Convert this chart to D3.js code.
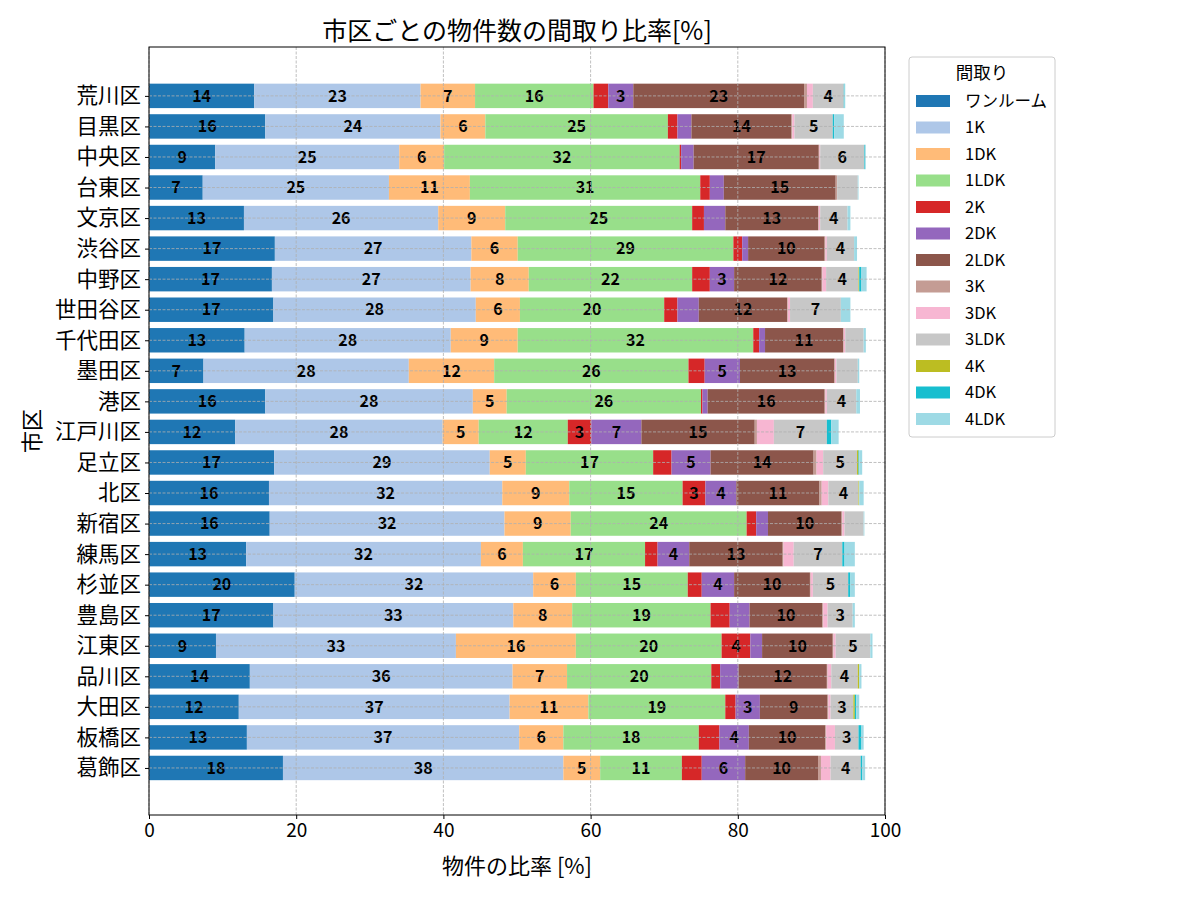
<!DOCTYPE html>
<html>
<head>
<meta charset="utf-8">
<script src="https://cdn.jsdelivr.net/npm/d3@7"></script>
<style>
	body { margin: 0; background: #fff; }
	svg text { font-family: "Noto Sans CJK JP", "Noto Sans", sans-serif; }
</style>
</head>
<body>
<svg id="chart" width="1200" height="900"></svg>
<script>
// wards top to bottom
var wards = ["荒川区","目黒区","中央区","台東区","文京区","渋谷区","中野区","世田谷区","千代田区","墨田区","港区","江戸川区","足立区","北区","新宿区","練馬区","杉並区","豊島区","江東区","品川区","大田区","板橋区","葛飾区"];
var layouts = ["ワンルーム","1K","1DK","1LDK","2K","2DK","2LDK","3K","3DK","3LDK","4K","4DK","4LDK"];
var colors = ["#1f77b4","#aec7e8","#ffbb78","#98df8a","#d62728","#9467bd","#8c564b","#c49c94","#f7b6d2","#c7c7c7","#bcbd22","#17becf","#9edae5"];

// percent per layout, same order as wards
var oneRoom = [14.3,15.8,9.0,7.3,12.9,17.1,16.7,16.9,13.0,7.4,15.8,11.7,17.0,16.3,16.4,13.2,19.8,16.9,9.1,13.7,12.2,13.3,18.2];
var k1      = [22.6,23.8,25.0,25.3,26.4,26.7,27.0,27.5,28.0,27.9,28.2,28.2,29.3,31.7,31.9,31.9,32.4,32.6,32.6,35.7,36.8,37.0,38.1];
var dk1     = [7.4,6.1,6.1,11.0,9.1,6.3,7.9,6.0,9.1,11.6,4.6,4.9,4.9,9.1,9.0,5.7,5.8,8.0,16.3,7.4,10.7,6.0,5.0];
var ldk1    = [16.1,24.8,32.0,31.3,25.4,29.3,22.2,19.6,32.0,26.4,26.4,12.1,17.3,15.4,23.9,16.6,15.2,18.8,19.8,19.6,18.6,18.4,11.1];
var k2      = [2.0,1.3,0.2,1.3,1.6,1.2,2.4,1.8,0.8,2.2,0.2,3.2,2.5,3.1,1.3,1.7,1.9,2.6,3.9,1.2,1.4,2.8,2.7];
var dk2     = [3.4,1.9,1.7,1.9,2.9,0.8,3.3,2.9,0.8,4.8,0.7,6.8,5.3,4.2,1.6,4.3,4.4,2.7,1.6,2.5,3.3,4.0,5.9];
var ldk2    = [23.2,13.6,17.0,15.2,12.6,10.4,11.9,12.0,10.6,12.8,15.9,15.4,14.0,11.3,10.0,12.7,10.3,9.9,9.6,12.0,9.2,10.4,9.9];
var k3      = [0.4,0.1,0.1,0.2,0.1,0.1,0.1,0.1,0.1,0.1,0.1,0.3,0.4,0.3,0.1,0.1,0.1,0.1,0.1,0.1,0.1,0.1,0.4];
var dk3     = [0.8,0.3,0.1,0.0,0.2,0.2,0.5,0.3,0.2,0.2,0.2,2.3,0.9,0.9,0.3,1.4,0.3,0.6,0.3,0.5,0.3,1.2,1.3];
var ldk3    = [4.2,5.2,6.0,2.8,3.7,3.7,4.4,6.9,2.5,2.9,4.0,7.2,4.6,4.1,2.6,6.6,4.8,3.4,4.7,3.6,3.1,3.2,4.1];
var k4      = [0,0,0,0,0,0,0.1,0,0,0,0,0,0.2,0.1,0,0,0,0,0,0.2,0.2,0,0];
var dk4     = [0.1,0.2,0.1,0,0,0,0.3,0,0,0,0,0.6,0.1,0,0,0.3,0.3,0,0,0,0.2,0.4,0.2];
var ldk4    = [0.1,1.3,0.1,0.1,0.4,0.4,0.7,1.3,0.3,0.2,0.5,1.0,0.4,0.6,0.1,1.4,0.6,0.3,0.3,0.3,0.4,0.3,0.4];
var xTicks  = [0,20,40,60,80,100];

var series = [oneRoom,k1,dk1,ldk1,k2,dk2,ldk2,k3,dk3,ldk3,k4,dk4,ldk4];

var margin = { top: 47, right: 315, bottom: 85, left: 149 };
var width = 1200 - margin.left - margin.right;
var height = 900 - margin.top - margin.bottom;

var svg = d3.select("#chart");
var g = svg.append("g").attr("transform", "translate(" + margin.left + "," + margin.top + ")");

var xScale = d3.scaleLinear().domain([0, 100]).range([0, width]);
var yScale = d3.scaleLinear().domain([-1.6, 23.54]).range([0, height]);
var bandH = (yScale(1) - yScale(0)) * 0.8;

// stacked segments
var segments = [];
for (var w = 0; w < wards.length; w++) {
	var left = 0;
	for (var s = 0; s < series.length; s++) {
		var v = series[s][w];
		segments.push({ ward: w, layout: s, x0: left, value: v });
		left += v;
	}
}

g.selectAll(".seg")
	.data(segments)
	.enter()
	.append("rect")
	.attr("class", "seg")
	.attr("x", function(d) { return xScale(d.x0); })
	.attr("y", function(d) { return yScale(d.ward) - bandH / 2; })
	.attr("width", function(d) { return xScale(d.x0 + d.value) - xScale(d.x0); })
	.attr("height", bandH)
	.attr("fill", function(d) { return colors[d.layout]; });

g.selectAll(".segLabel")
	.data(segments.filter(function(d) { return d.value >= 3; }))
	.enter()
	.append("text")
	.attr("class", "segLabel")
	.attr("x", function(d) { return xScale(d.x0 + d.value / 2); })
	.attr("y", function(d) { return yScale(d.ward); })
	.attr("dy", "0.36em")
	.attr("text-anchor", "middle")
	.attr("font-size", 16)
	.attr("font-weight", "bold")
	.attr("fill", "#000")
	.text(function(d) { return d.value.toFixed(0); });

// grid on top of the bars
var grid = g.append("g").attr("class", "grid");
grid.selectAll(".vgrid")
	.data(xTicks)
	.enter()
	.append("line")
	.attr("x1", function(d) { return xScale(d); })
	.attr("x2", function(d) { return xScale(d); })
	.attr("y1", 0).attr("y2", height)
	.attr("stroke", "#b0b0b0").attr("stroke-width", 0.8)
	.attr("stroke-dasharray", "3,1.5");
grid.selectAll(".hgrid")
	.data(wards)
	.enter()
	.append("line")
	.attr("x1", 0).attr("x2", width)
	.attr("y1", function(d, i) { return yScale(i); })
	.attr("y2", function(d, i) { return yScale(i); })
	.attr("stroke", "#b0b0b0").attr("stroke-width", 0.8)
	.attr("stroke-dasharray", "3,1.5");

// axes
var xAxis = d3.axisBottom(xScale).tickValues(xTicks).tickSize(4).tickPadding(4).tickFormat(d3.format("d"));
var xAxisLine = g.append("g").attr("transform", "translate(0," + height + ")").call(xAxis);
xAxisLine.select(".domain").remove();
xAxisLine.selectAll("text").attr("font-size", 19).attr("fill", "#000");

var yAxis = d3.axisLeft(yScale).tickValues(d3.range(wards.length)).tickSize(4).tickPadding(4)
	.tickFormat(function(i) { return wards[i]; });
var yAxisLine = g.append("g").call(yAxis);
yAxisLine.select(".domain").remove();
yAxisLine.selectAll("text").attr("font-size", 21.5).attr("fill", "#000");

g.append("rect")
	.attr("x", 0).attr("y", 0).attr("width", width).attr("height", height)
	.attr("fill", "none").attr("stroke", "#000").attr("stroke-width", 1);

// titles
svg.append("text")
	.attr("x", margin.left + width / 2).attr("y", 40)
	.attr("text-anchor", "middle").attr("font-size", 25)
	.text("市区ごとの物件数の間取り比率[%]");
svg.append("text")
	.attr("x", margin.left + width / 2).attr("y", 874)
	.attr("text-anchor", "middle").attr("font-size", 22)
	.text("物件の比率 [%]");
svg.append("text")
	.attr("transform", "translate(40," + (margin.top + height / 2) + ") rotate(-90)")
	.attr("text-anchor", "middle").attr("font-size", 22)
	.text("市区");

// legend
var legend = svg.append("g").attr("transform", "translate(909,57)");
legend.append("rect")
	.attr("width", 146).attr("height", 380).attr("rx", 3)
	.attr("fill", "#fff").attr("stroke", "#ccc");
legend.append("text")
	.attr("x", 73).attr("y", 22).attr("text-anchor", "middle").attr("font-size", 17.5)
	.text("間取り");
var items = legend.selectAll(".item")
	.data(layouts)
	.enter()
	.append("g")
	.attr("transform", function(d, i) { return "translate(0," + (44 + i * 26.5) + ")"; });
items.append("rect")
	.attr("x", 7).attr("y", -6).attr("width", 34).attr("height", 12)
	.attr("fill", function(d, i) { return colors[i]; });
items.append("text")
	.attr("x", 56).attr("y", 0).attr("dy", "0.35em").attr("font-size", 16.5)
	.text(function(d) { return d; });
</script>
</body>
</html>
